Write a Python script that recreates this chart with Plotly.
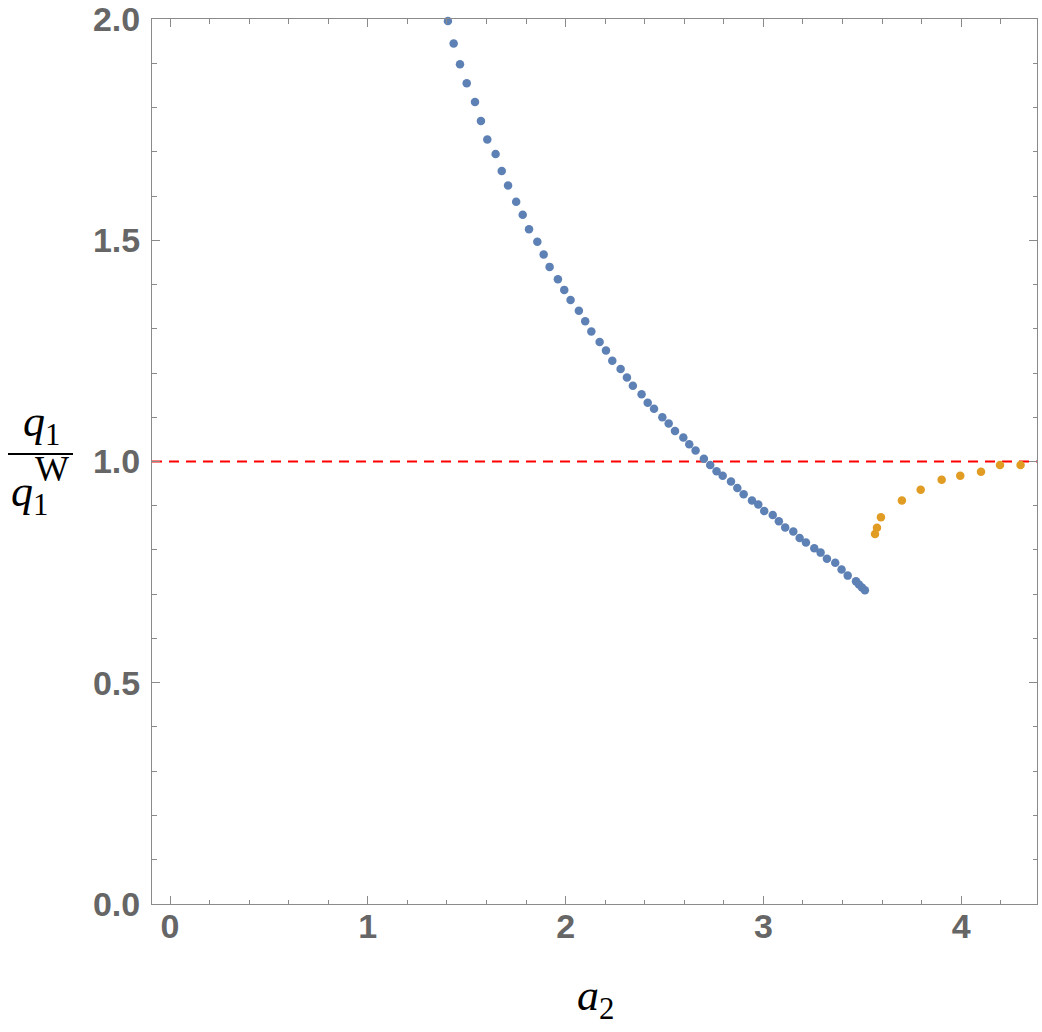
import plotly.graph_objects as go

# Data
a2_blue = [1.405, 1.434, 1.466, 1.500, 1.542, 1.572, 1.604, 1.646, 1.677, 1.709,
           1.750, 1.783, 1.815, 1.857, 1.889, 1.919, 1.961, 1.993, 2.025, 2.067,
           2.099, 2.130, 2.172, 2.204, 2.236, 2.278, 2.310, 2.340, 2.384, 2.415,
           2.447, 2.489, 2.521, 2.553, 2.595, 2.625, 2.657, 2.699, 2.731, 2.763,
           2.794, 2.836, 2.868, 2.900, 2.942, 2.974, 3.004, 3.047, 3.078, 3.110,
           3.151, 3.183, 3.215, 3.257, 3.289, 3.321, 3.363, 3.395, 3.426, 3.468,
           3.483, 3.498, 3.513]
ratio_blue = [1.996, 1.945, 1.898, 1.855, 1.813, 1.770, 1.728, 1.695, 1.657, 1.624,
              1.587, 1.558, 1.525, 1.497, 1.468, 1.440, 1.412, 1.388, 1.365, 1.341,
              1.317, 1.294, 1.270, 1.251, 1.228, 1.209, 1.190, 1.171, 1.152, 1.133,
              1.119, 1.100, 1.086, 1.069, 1.054, 1.039, 1.025, 1.006, 0.992, 0.978,
              0.968, 0.955, 0.940, 0.926, 0.912, 0.903, 0.888, 0.879, 0.865, 0.851,
              0.842, 0.827, 0.817, 0.804, 0.794, 0.780, 0.771, 0.756, 0.742, 0.729,
              0.722, 0.715, 0.709]

a2_orange = [3.564, 3.574, 3.594, 3.700, 3.795, 3.901, 3.995, 4.100, 4.196, 4.300]
ratio_orange = [0.836, 0.850, 0.874, 0.912, 0.936, 0.959, 0.968, 0.977, 0.992, 0.992]

reference_level = 1.0
x_range = [-0.091, 4.383]
y_range = [-0.0004, 2.0004]
y_ticks = [0.0, 0.5, 1.0, 1.5, 2.0]
y_tick_labels = ["0.0", "0.5", "1.0", "1.5", "2.0"]
x_ticks = [0, 1, 2, 3, 4]
x_tick_labels = ["0", "1", "2", "3", "4"]

BLUE = "#5E81B5"
ORANGE = "#E19C24"
FRAME = "#8a8a8a"
TICKTXT = "#666666"

fig = go.Figure()
fig.add_trace(go.Scatter(x=a2_blue, y=ratio_blue, mode="markers",
                         marker=dict(color=BLUE, size=8.5, line=dict(width=0)),
                         cliponaxis=False, showlegend=False))
fig.add_trace(go.Scatter(x=a2_orange, y=ratio_orange, mode="markers",
                         marker=dict(color=ORANGE, size=8.5, line=dict(width=0)),
                         cliponaxis=False, showlegend=False))

fig.add_shape(type="line", xref="paper", yref="y", x0=0, x1=1,
              y0=reference_level, y1=reference_level, layer="below",
              line=dict(color="red", width=2, dash="10px,7px"))

tickfont = dict(family="Liberation Sans, Arial, sans-serif", size=34,
                color=TICKTXT, weight="bold")

fig.update_xaxes(range=x_range, showgrid=False, zeroline=False, automargin=False,
                 showline=True, linecolor=FRAME, linewidth=1, mirror="ticks",
                 ticks="inside", ticklen=8, tickwidth=1, tickcolor=FRAME,
                 tickvals=x_ticks, ticktext=x_tick_labels, tickfont=tickfont,
                 ticklabelstandoff=-8,
                 minor=dict(dtick=0.2, tick0=0, ticks="inside", ticklen=4.5,
                            tickcolor=FRAME, tickwidth=1, showgrid=False))
fig.update_yaxes(range=y_range, showgrid=False, zeroline=False, automargin=False,
                 showline=True, linecolor=FRAME, linewidth=1, mirror="ticks",
                 ticks="inside", ticklen=8, tickwidth=1, tickcolor=FRAME,
                 tickvals=y_ticks, ticktext=y_tick_labels, tickfont=tickfont,
                 ticklabelstandoff=4,
                 minor=dict(dtick=0.1, tick0=0, ticks="inside", ticklen=4.5,
                            tickcolor=FRAME, tickwidth=1, showgrid=False))

serif = "Liberation Serif, Times New Roman, serif"
W, H = 1042, 1032
L, R, T, B = 152, 5, 19, 128
pw, ph = W - L - R, H - T - B


def px(xp):
    return (xp - L) / pw


def py(yp):
    return (H - B - yp) / ph


ann = []
# x-axis label a_2
ann.append(dict(text="<i>a</i><sub>2</sub>", xref="paper", yref="paper",
                x=px(575), y=py(998), xanchor="left", yanchor="middle",
                showarrow=False, font=dict(family=serif, size=44, color="black")))
# y-axis label fraction q1 / q1^W
ann.append(dict(text="<i>q</i><sub>1</sub>", xref="paper", yref="paper",
                x=px(21), y=py(425), xanchor="left", yanchor="middle",
                showarrow=False, font=dict(family=serif, size=44, color="black")))
ann.append(dict(text="<i>q</i><sub>1</sub>", xref="paper", yref="paper",
                x=px(9), y=py(494), xanchor="left", yanchor="middle",
                showarrow=False, font=dict(family=serif, size=44, color="black")))
ann.append(dict(text="W", xref="paper", yref="paper",
                x=px(52), y=py(469), xanchor="center", yanchor="middle",
                showarrow=False, font=dict(family=serif, size=36, color="black")))
fig.add_shape(type="line", xref="paper", yref="paper", x0=px(8), x1=px(73),
              y0=py(454), y1=py(454), line=dict(color="black", width=2))

fig.update_layout(width=W, height=H, margin=dict(l=L, r=R, t=T, b=B, autoexpand=False),
                  paper_bgcolor="white", plot_bgcolor="white",
                  annotations=ann, showlegend=False)

fig.write_html("out.html")
